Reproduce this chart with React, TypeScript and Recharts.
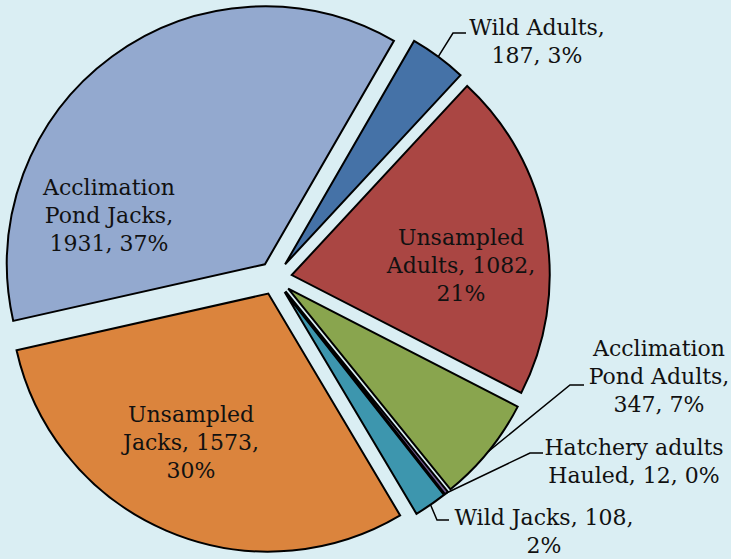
import { PieChart, Pie, Sector } from "recharts";

// slices, clockwise from about 1 o'clock
const categories = [
  "Wild Adults",
  "Unsampled Adults",
  "Acclimation Pond Adults",
  "Hatchery adults Hauled",
  "Wild Jacks",
  "Unsampled Jacks",
  "Acclimation Pond Jacks",
];
const counts = [187, 1082, 347, 12, 108, 1573, 1931];
const labelLines = [
  ["Wild Adults,", "187, 3%"],
  ["Unsampled", "Adults, 1082,", "21%"],
  ["Acclimation", "Pond Adults,", "347, 7%"],
  ["Hatchery adults", "Hauled, 12, 0%"],
  ["Wild Jacks, 108,", "2%"],
  ["Unsampled", "Jacks, 1573,", "30%"],
  ["Acclimation", "Pond Jacks,", "1931, 37%"],
];

const data = categories.map((name, i) => ({ name, value: counts[i] }));

const COLORS = ["#4572A7", "#AA4643", "#89A54E", "#71588F", "#3D96AE", "#DB843D", "#93A9CF"];
const BG = "#DAEEF3";
const EXPLODE = 17;
const RAD = Math.PI / 180;
const LINE_H = 28;

// label placement (text anchor of first line, optional leader elbow + tail)
const LABEL_POS: { x: number; y: number; elbow?: number[]; tail?: number[] }[] = [
  { x: 537, y: 35, elbow: [453, 33], tail: [466, 33] },
  { x: 461, y: 245 },
  { x: 659, y: 356, elbow: [570, 385], tail: [584, 385] },
  { x: 634, y: 455, elbow: [530, 453], tail: [543, 453] },
  { x: 544, y: 525, elbow: [437, 520], tail: [449, 520] },
  { x: 191, y: 422 },
  { x: 109, y: 195 },
];

const renderSlice = (props: any) => {
  const { cx, cy, midAngle, startAngle, endAngle, outerRadius, index } = props;
  const ox = cx + EXPLODE * Math.cos(-midAngle * RAD);
  const oy = cy + EXPLODE * Math.sin(-midAngle * RAD);
  const ax = ox + outerRadius * Math.cos(-midAngle * RAD);
  const ay = oy + outerRadius * Math.sin(-midAngle * RAD);
  const pos = LABEL_POS[index];
  return (
    <g key={`slice-${index}`}>
      <Sector
        cx={ox}
        cy={oy}
        innerRadius={0}
        outerRadius={outerRadius}
        startAngle={startAngle}
        endAngle={endAngle}
        fill={COLORS[index]}
        stroke="#000"
        strokeWidth={2}
      />
      {pos.elbow && (
        <polyline
          points={`${ax},${ay} ${pos.elbow[0]},${pos.elbow[1]} ${pos.tail![0]},${pos.tail![1]}`}
          fill="none"
          stroke="#000"
          strokeWidth={1.5}
        />
      )}
      <text
        x={pos.x}
        y={pos.y}
        textAnchor="middle"
        fill="#111"
        fontFamily="'DejaVu Serif', serif"
        fontSize={22}
      >
        {labelLines[index].map((line, j) => (
          <tspan key={j} x={pos.x} dy={j === 0 ? 0 : LINE_H}>
            {line}
          </tspan>
        ))}
      </text>
    </g>
  );
};

const App = () => {
  return (
    <div style={{ width: 731, height: 559, background: BG }}>
      <style>{"body{margin:0}"}</style>
      <PieChart width={731} height={559} margin={{ top: 0, right: 0, bottom: 0, left: 0 }}>
        <Pie
          data={data}
          dataKey="value"
          nameKey="name"
          cx={275}
          cy={278}
          outerRadius={258}
          startAngle={60}
          endAngle={-300}
          fill="none"
          stroke="none"
          labelLine={false}
          label={renderSlice}
          isAnimationActive={false}
        />
      </PieChart>
    </div>
  );
};

export default App;
